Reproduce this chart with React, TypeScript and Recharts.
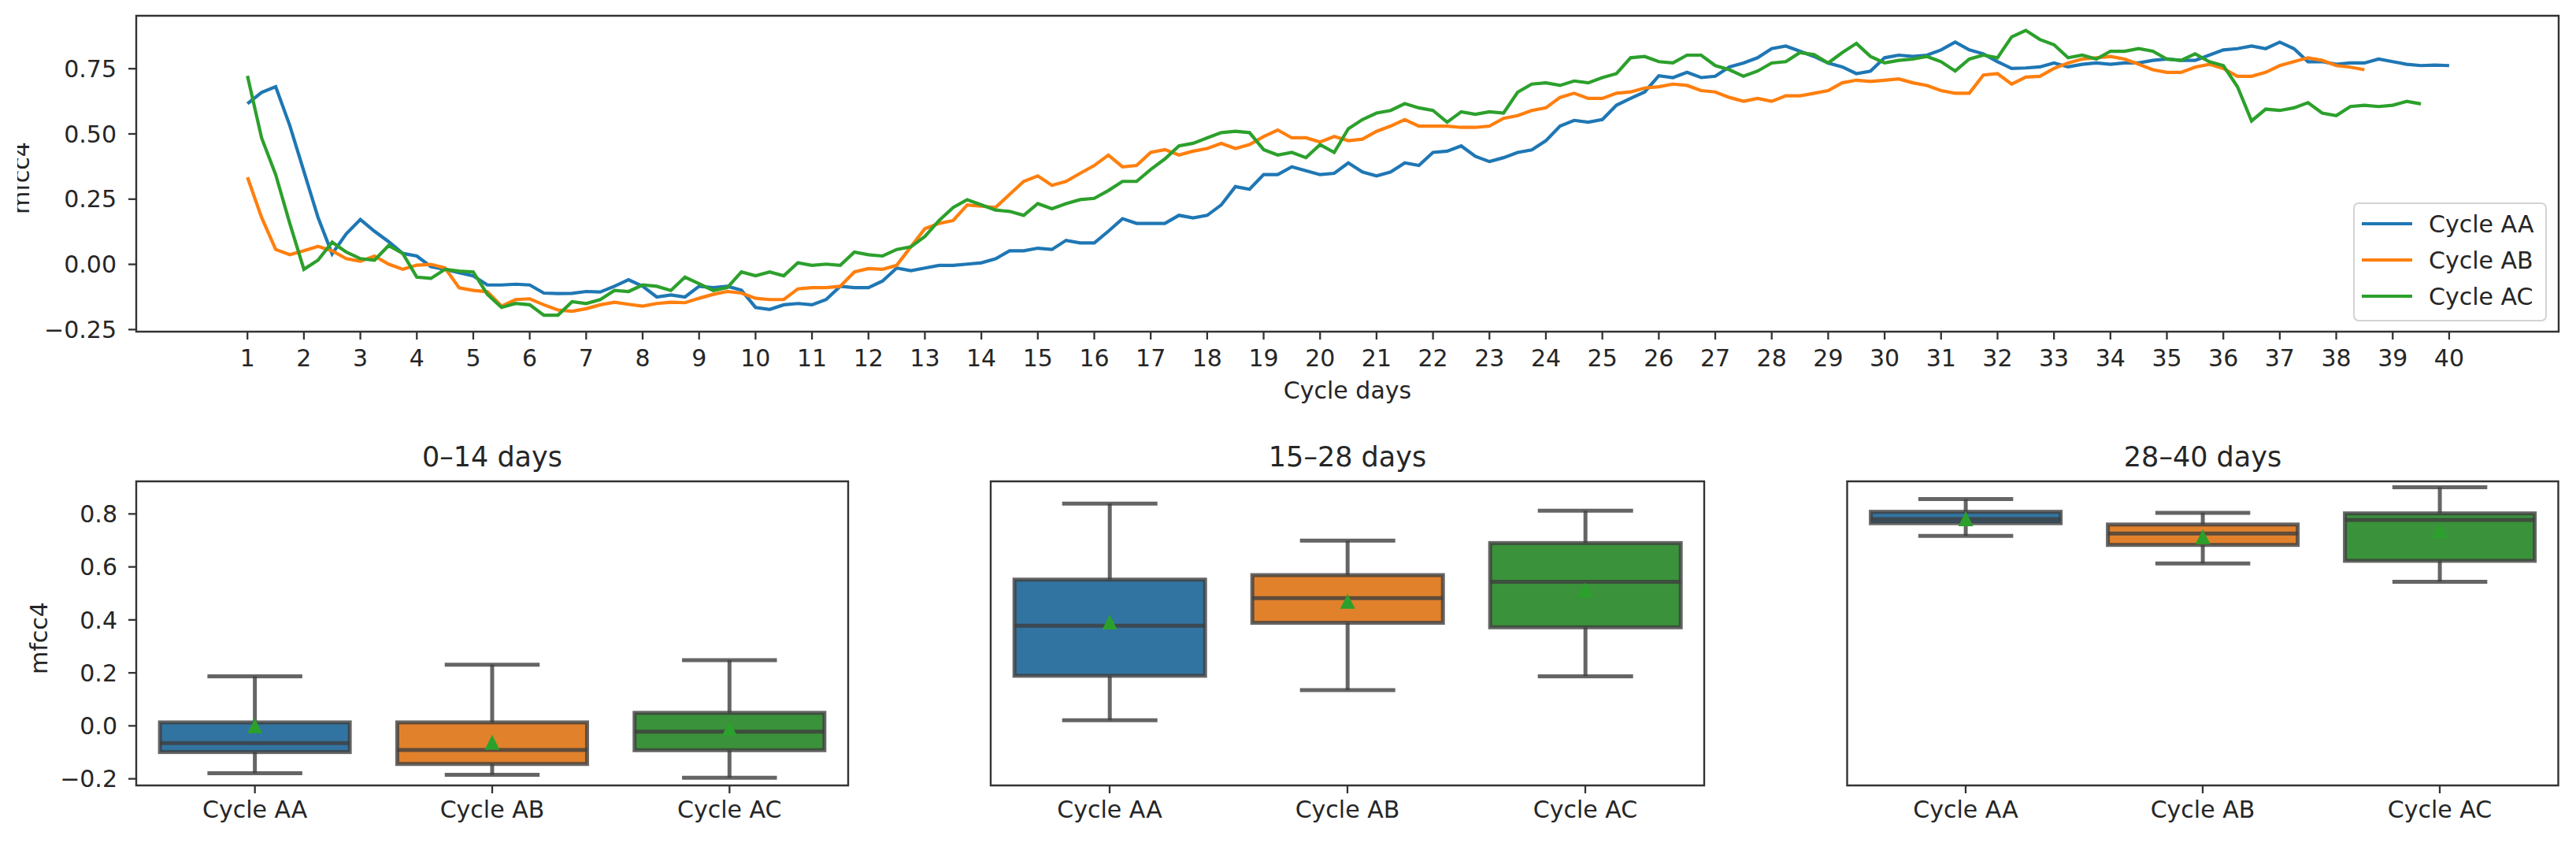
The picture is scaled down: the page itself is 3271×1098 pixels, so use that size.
import React from 'react';
import { LineChart, Line, BarChart, Bar, XAxis, YAxis, ReferenceArea } from 'recharts';

// mfcc4 over the cycle (top) and its distribution per period (bottom row)

const FONT = '"DejaVu Sans", Verdana, sans-serif';
const INK = '#262626';
const SPINE = '#333333';

const SERIES = [
  { key: 'aa', name: 'Cycle AA', color: '#1f77b4' },
  { key: 'ab', name: 'Cycle AB', color: '#ff7f0e' },
  { key: 'ac', name: 'Cycle AC', color: '#2ca02c' },
];

// line samples start at day 1, one every quarter day
const DAY_START = 1;
const DAY_STEP = 0.25;

const DAY_TICKS = [
  1, 2, 3, 4, 5, 6, 7, 8, 9, 10, 11, 12, 13, 14, 15, 16, 17, 18, 19, 20,
  21, 22, 23, 24, 25, 26, 27, 28, 29, 30, 31, 32, 33, 34, 35, 36, 37, 38, 39, 40,
];
const TOP_Y_TICKS = [-0.25, 0, 0.25, 0.5, 0.75];

const cycleAA = [
  0.616, 0.659, 0.681, 0.532, 0.356, 0.18, 0.04, 0.117,
  0.172, 0.127, 0.087, 0.042,
  0.032, -0.009, -0.019, -0.032,
  -0.044, -0.079, -0.079, -0.076,
  -0.079, -0.11, -0.112, -0.111,
  -0.104, -0.106, -0.084, -0.059,
  -0.084, -0.125, -0.117, -0.125,
  -0.084, -0.089, -0.084, -0.099,
  -0.165, -0.173, -0.155, -0.15,
  -0.155, -0.135, -0.084, -0.089,
  -0.089, -0.064, -0.014, -0.024,
  -0.014, -0.004, -0.004, 0.001,
  0.006, 0.021, 0.052, 0.052,
  0.062, 0.057, 0.092, 0.082,
  0.082, 0.127, 0.175, 0.157,
  0.157, 0.157, 0.188, 0.178,
  0.188, 0.228, 0.298, 0.288,
  0.344, 0.344, 0.374, 0.359,
  0.344, 0.349, 0.389, 0.354,
  0.339, 0.354, 0.389, 0.379,
  0.429, 0.434, 0.454, 0.414,
  0.394, 0.409, 0.429, 0.439,
  0.474, 0.53, 0.552, 0.545,
  0.555, 0.61, 0.636, 0.661,
  0.723, 0.716, 0.736, 0.716,
  0.721, 0.757, 0.772, 0.792,
  0.827, 0.837, 0.817, 0.797,
  0.772, 0.757, 0.731, 0.741,
  0.792, 0.802, 0.797, 0.802,
  0.822, 0.852, 0.822, 0.807,
  0.777, 0.751, 0.753, 0.757,
  0.772, 0.757, 0.767, 0.772,
  0.767, 0.772, 0.772, 0.782,
  0.787, 0.782, 0.782, 0.802,
  0.822, 0.827, 0.837, 0.827,
  0.852, 0.827, 0.777, 0.777,
  0.767, 0.772, 0.772, 0.787,
  0.777, 0.767, 0.762, 0.764,
  0.762,
];

const cycleAB = [
  0.334, 0.18, 0.057, 0.037, 0.052, 0.069, 0.052, 0.022,
  0.012, 0.032, 0.001, -0.019,
  -0.003, 0.0, -0.014, -0.09,
  -0.1, -0.105, -0.16, -0.135,
  -0.132, -0.155, -0.175, -0.18,
  -0.17, -0.155, -0.145, -0.153,
  -0.16, -0.15, -0.145, -0.147,
  -0.13, -0.115, -0.104, -0.11,
  -0.13, -0.135, -0.135, -0.094,
  -0.089, -0.089, -0.084, -0.029,
  -0.016, -0.019, -0.004, 0.067,
  0.137, 0.157, 0.168, 0.228,
  0.223, 0.218, 0.268, 0.318,
  0.339, 0.303, 0.318, 0.349,
  0.379, 0.419, 0.374, 0.379,
  0.429, 0.44, 0.419, 0.434,
  0.444, 0.464, 0.444, 0.459,
  0.49, 0.515, 0.485, 0.485,
  0.469, 0.49, 0.474, 0.48,
  0.51, 0.53, 0.555, 0.53,
  0.53, 0.53, 0.525, 0.525,
  0.53, 0.56, 0.57, 0.59,
  0.6, 0.64, 0.656, 0.636,
  0.636, 0.656, 0.661, 0.676,
  0.681, 0.691, 0.686, 0.666,
  0.661, 0.64, 0.625, 0.636,
  0.625, 0.646, 0.646, 0.656,
  0.666, 0.696, 0.706, 0.701,
  0.706, 0.711, 0.696, 0.686,
  0.666, 0.656, 0.656, 0.726,
  0.731, 0.691, 0.718, 0.721,
  0.751, 0.772, 0.787, 0.792,
  0.797, 0.787, 0.767, 0.746,
  0.736, 0.736, 0.756, 0.767,
  0.751, 0.721, 0.721, 0.736,
  0.762, 0.777, 0.792, 0.782,
  0.762, 0.756, 0.746,
];

const cycleAC = [
  0.723, 0.485, 0.344, 0.157, -0.019, 0.016, 0.085, 0.047,
  0.022, 0.016, 0.072, 0.042,
  -0.049, -0.054, -0.019, -0.026,
  -0.029, -0.115, -0.165, -0.15,
  -0.155, -0.195, -0.195, -0.143,
  -0.15, -0.135, -0.1, -0.104,
  -0.079, -0.084, -0.1, -0.049,
  -0.074, -0.1, -0.089, -0.029,
  -0.044, -0.029, -0.044, 0.006,
  -0.004, 0.001, -0.004, 0.047,
  0.037, 0.032, 0.057, 0.067,
  0.107, 0.168, 0.218, 0.248,
  0.228, 0.208, 0.203, 0.188,
  0.233, 0.213, 0.233, 0.248,
  0.253, 0.283, 0.318, 0.318,
  0.364, 0.404, 0.454, 0.464,
  0.485, 0.505, 0.51, 0.505,
  0.44, 0.419, 0.429, 0.409,
  0.459, 0.429, 0.52, 0.555,
  0.58, 0.59, 0.616, 0.6,
  0.59, 0.545, 0.585, 0.575,
  0.585, 0.58, 0.66, 0.691,
  0.696, 0.686, 0.703, 0.696,
  0.716, 0.731, 0.792, 0.797,
  0.777, 0.772, 0.802, 0.802,
  0.762, 0.746, 0.721, 0.741,
  0.772, 0.777, 0.812, 0.804,
  0.772, 0.812, 0.847, 0.797,
  0.772, 0.782, 0.787, 0.797,
  0.777, 0.741, 0.787, 0.802,
  0.792, 0.872, 0.897, 0.862,
  0.842, 0.792, 0.802, 0.787,
  0.817, 0.817, 0.827, 0.817,
  0.787, 0.782, 0.807, 0.777,
  0.762, 0.681, 0.55, 0.595,
  0.59, 0.6, 0.62, 0.58,
  0.57, 0.605, 0.61, 0.605,
  0.61, 0.625, 0.615,
];

// box plots: one row per period, one value per cycle
const CYCLES = ['Cycle AA', 'Cycle AB', 'Cycle AC'];
const BOX_COLORS = ['#3274a1', '#e1812c', '#3a923a'];
const PERIODS = ['0–14 days', '15–28 days', '28–40 days'];
const BOX_Y_TICKS = [-0.2, 0, 0.2, 0.4, 0.6, 0.8];

const whiskerLow = [
  [-0.179, -0.185, -0.196],
  [0.021, 0.135, 0.187],
  [0.717, 0.613, 0.544],
];
const quartile1 = [
  [-0.099, -0.144, -0.092],
  [0.189, 0.389, 0.372],
  [0.765, 0.683, 0.623],
];
const medians = [
  [-0.065, -0.091, -0.022],
  [0.378, 0.482, 0.544],
  [0.78, 0.726, 0.777],
];
const quartile3 = [
  [0.013, 0.013, 0.049],
  [0.552, 0.569, 0.69],
  [0.808, 0.76, 0.802],
];
const whiskerHigh = [
  [0.187, 0.231, 0.248],
  [0.839, 0.699, 0.812],
  [0.856, 0.804, 0.901],
];
const means = [
  [0.0, -0.062, -0.009],
  [0.392, 0.47, 0.513],
  [0.782, 0.714, 0.738],
];

const lineData = cycleAA.map((v, i) => ({
  day: DAY_START + i * DAY_STEP,
  aa: v,
  ab: cycleAB[i] ?? null,
  ac: cycleAC[i] ?? null,
}));

const boxData = PERIODS.map((_, p) =>
  CYCLES.map((cycle, c) => ({
    cycle,
    color: BOX_COLORS[c],
    low: whiskerLow[p][c],
    q1: quartile1[p][c],
    median: medians[p][c],
    q3: quartile3[p][c],
    high: whiskerHigh[p][c],
    mean: means[p][c],
  }))
);

const TOP_X_DOMAIN: [number, number] = [-0.97, 41.94];
const TOP_Y_DOMAIN: [number, number] = [-0.258, 0.953];
const BOX_Y_DOMAIN: [number, number] = [-0.225, 0.923];

const tickStyle = { fill: INK, fontSize: 30, fontFamily: FONT };
const tickLineStyle = { stroke: SPINE, strokeWidth: 2.3 };

const minus = (v: number, digits: number) =>
  (v < 0 ? '\u2212' : '') + Math.abs(v).toFixed(digits);

const BOX_LINE = { stroke: '#3f3f3f', strokeOpacity: 0.8, strokeWidth: 5 };

// draws one seaborn-style box from the bar that spans low..high whisker
function BoxShape(props: any) {
  const { x, y, width, height, payload } = props;
  if (!payload) return null;
  const top = Math.min(y, y + height);
  const span = Math.abs(height);
  const perUnit = span / (payload.high - payload.low);
  const py = (v: number) => top + (payload.high - v) * perUnit;
  const cx = x + width / 2;
  const cap = width / 4;
  const yHigh = py(payload.high);
  const yQ3 = py(payload.q3);
  const yMed = py(payload.median);
  const yQ1 = py(payload.q1);
  const yLow = py(payload.low);
  const yMean = py(payload.mean);
  const t = 9.5;
  return (
    <g>
      <line x1={cx} x2={cx} y1={yHigh} y2={yQ3} {...BOX_LINE} />
      <line x1={cx} x2={cx} y1={yQ1} y2={yLow} {...BOX_LINE} />
      <line x1={cx - cap} x2={cx + cap} y1={yHigh} y2={yHigh} {...BOX_LINE} />
      <line x1={cx - cap} x2={cx + cap} y1={yLow} y2={yLow} {...BOX_LINE} />
      <rect x={x} y={yQ3} width={width} height={yQ1 - yQ3} fill={payload.color} {...BOX_LINE} />
      <line x1={x} x2={x + width} y1={yMed} y2={yMed} {...BOX_LINE} />
      <polygon
        points={`${cx},${yMean - t} ${cx - t},${yMean + t} ${cx + t},${yMean + t}`}
        fill="#2ca02c"
      />
    </g>
  );
}

function TopChart() {
  return (
    <LineChart
      width={3271}
      height={560}
      data={lineData}
      margin={{ top: 20, right: 22, bottom: 39, left: 73 }}
    >
      <XAxis
        dataKey="day"
        type="number"
        domain={TOP_X_DOMAIN}
        ticks={DAY_TICKS}
        interval={0}
        allowDataOverflow
        axisLine={false}
        tickLine={tickLineStyle}
        tickSize={10}
        tickMargin={13}
        height={100}
        tick={tickStyle}
      />
      <YAxis
        type="number"
        domain={TOP_Y_DOMAIN}
        ticks={TOP_Y_TICKS}
        interval={0}
        allowDataOverflow
        tickFormatter={(v: number) => minus(v, 2)}
        axisLine={false}
        tickLine={tickLineStyle}
        tickSize={10}
        tickMargin={15}
        width={100}
        tick={tickStyle}
      />
      <ReferenceArea
        x1={TOP_X_DOMAIN[0]}
        x2={TOP_X_DOMAIN[1]}
        y1={TOP_Y_DOMAIN[0]}
        y2={TOP_Y_DOMAIN[1]}
        fill="none"
        stroke={SPINE}
        strokeWidth={2.4}
        ifOverflow="visible"
      />
      {SERIES.map((s) => (
        <Line
          key={s.key}
          dataKey={s.key}
          name={s.name}
          type="linear"
          stroke={s.color}
          strokeWidth={4.2}
          dot={false}
          activeDot={false}
          connectNulls={false}
          isAnimationActive={false}
        />
      ))}
    </LineChart>
  );
}

interface BoxPanelProps {
  period: number;
  width: number;
  left: number;
  right: number;
  showY: boolean;
}

function BoxPanel({ period, width, left, right, showY }: BoxPanelProps) {
  return (
    <BarChart
      width={width}
      height={538}
      data={boxData[period]}
      barCategoryGap="10%"
      margin={{ top: 51, right, bottom: 41, left }}
    >
      <XAxis
        dataKey="cycle"
        interval={0}
        axisLine={false}
        tickLine={tickLineStyle}
        tickSize={10}
        tickMargin={10}
        height={60}
        tick={tickStyle}
      />
      <YAxis
        type="number"
        domain={BOX_Y_DOMAIN}
        ticks={BOX_Y_TICKS}
        interval={0}
        allowDataOverflow
        hide={!showY}
        tickFormatter={(v: number) => minus(v, 1)}
        axisLine={false}
        tickLine={tickLineStyle}
        tickSize={10}
        tickMargin={14}
        width={100}
        tick={tickStyle}
      />
      <ReferenceArea
        x1={CYCLES[0]}
        x2={CYCLES[CYCLES.length - 1]}
        y1={BOX_Y_DOMAIN[0]}
        y2={BOX_Y_DOMAIN[1]}
        fill="none"
        stroke={SPINE}
        strokeWidth={2.4}
        ifOverflow="visible"
      />
      <Bar
        dataKey={(d: any) => [d.low, d.high]}
        shape={BoxShape}
        isAnimationActive={false}
      />
    </BarChart>
  );
}

// panel placement: left edge of each chart box and its plot margins
const PANELS = [
  { left: 0, width: 1090, marginLeft: 73, marginRight: 13, showY: true, center: 625 },
  { left: 1180, width: 1000, marginLeft: 78, marginRight: 16, showY: false, center: 1711 },
  { left: 2270, width: 1001, marginLeft: 75.5, marginRight: 22.5, showY: false, center: 2797 },
];

function Overlay() {
  return (
    <svg
      width={3271}
      height={1098}
      style={{ position: 'absolute', left: 0, top: 0, pointerEvents: 'none' }}
      fontFamily={FONT}
    >
      <defs>
        <clipPath id="topLabelClip">
          <rect x={22} y={0} width={200} height={560} />
        </clipPath>
      </defs>
      <text x={1711} y={506} textAnchor="middle" fontSize={30} fill={INK}>
        Cycle days
      </text>
      <g clipPath="url(#topLabelClip)">
        <text transform="translate(37,226) rotate(-90)" textAnchor="middle" fontSize={30} fill={INK}>
          mfcc4
        </text>
      </g>
      <text transform="translate(60,810) rotate(-90)" textAnchor="middle" fontSize={30} fill={INK}>
        mfcc4
      </text>
      {PERIODS.map((title, i) => (
        <text key={title} x={PANELS[i].center} y={592} textAnchor="middle" fontSize={35} fill={INK}>
          {title}
        </text>
      ))}
      <g transform="translate(2989,258)">
        <rect
          x={0}
          y={0}
          width={244}
          height={149}
          rx={6}
          fill="#ffffff"
          fillOpacity={0.8}
          stroke="#d3d3d3"
          strokeWidth={2}
        />
        {SERIES.map((s, i) => (
          <g key={s.key}>
            <line x1={10} x2={74} y1={26 + i * 46} y2={26 + i * 46} stroke={s.color} strokeWidth={4.2} />
            <text x={95} y={37 + i * 46} fontSize={30} fill={INK}>
              {s.name}
            </text>
          </g>
        ))}
      </g>
    </svg>
  );
}

export default function App() {
  return (
    <div
      style={{
        position: 'absolute',
        left: 0,
        top: 0,
        width: 3271,
        height: 1098,
        background: '#ffffff',
        overflow: 'hidden',
      }}
    >
      <div style={{ position: 'absolute', left: 0, top: 0 }}>
        <TopChart />
      </div>
      {PANELS.map((p, i) => (
        <div key={i} style={{ position: 'absolute', left: p.left, top: 560 }}>
          <BoxPanel
            period={i}
            width={p.width}
            left={p.marginLeft}
            right={p.marginRight}
            showY={p.showY}
          />
        </div>
      ))}
      <Overlay />
    </div>
  );
}
